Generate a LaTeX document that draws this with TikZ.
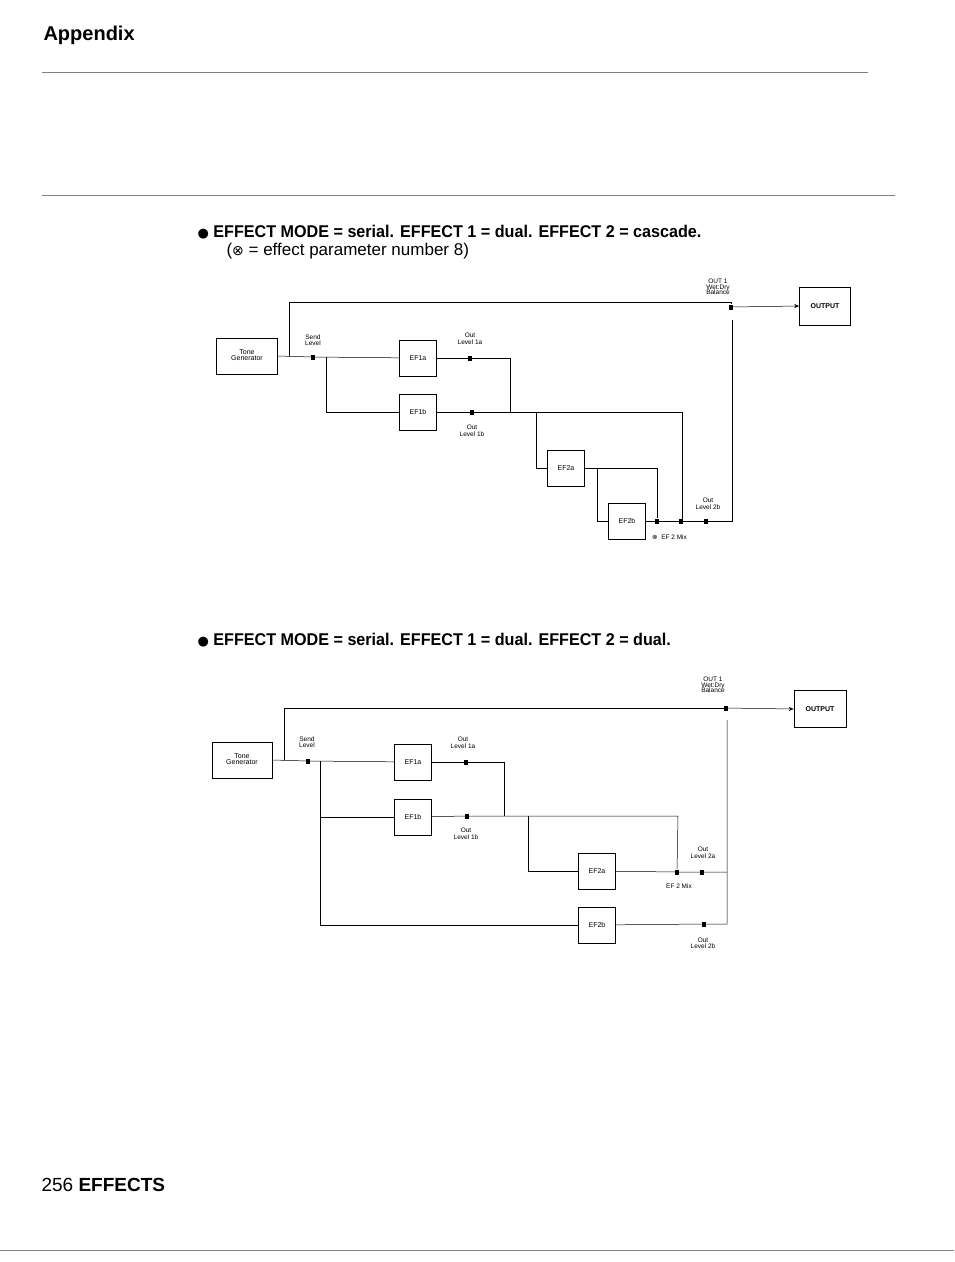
\documentclass[tikz,border=0pt]{standalone}
\usepackage{fontspec}
\setmainfont{Liberation Sans}
\newfontfamily\headf[FakeStretch=0.95]{Liberation Sans}
\newfontfamily\headg[FakeStretch=1.0]{Liberation Sans}
\newfontfamily\symf{DejaVu Sans}
\usetikzlibrary{arrows.meta}
\begin{document}
\begin{tikzpicture}[x=1pt,y=-1pt,
  blk/.style={draw,line width=0.6pt,minimum width=37pt,minimum height=36pt,inner sep=0pt,font=\fontsize{7}{7.5}\selectfont},
  sq/.style={fill=black,minimum width=4pt,minimum height=5pt,inner sep=0pt},
  lbl/.style={font=\fontsize{6.5}{6.5}\selectfont,align=center,inner sep=0pt},
  ln/.style={line width=0.5pt}]
\useasboundingbox (0,0) rectangle (954,1262);
\node[anchor=west,font=\bfseries\fontsize{20}{21}\selectfont] (app) at (40,35) {Appendix};
\draw[ln,gray] (42,72) coordinate(r1a) -- (868,72) coordinate(r1b);
\draw[ln,gray] (42,195) coordinate(r2a) -- (895,195) coordinate(r2b);
\draw[ln,gray] (0,1250) coordinate(r3a) -- (954,1250) coordinate(r3b);
\node[anchor=west,font=\fontsize{19}{20}\selectfont] (pg) at (38,1185) {256 \textbf{EFFECTS}};

% ---------- top ----------
\node[anchor=west,font=\headf\bfseries\fontsize{17}{18}\selectfont] (h1) at (194,232) {\symf\fontsize{13}{14}\selectfont ●\headf\fontsize{17}{18}\selectfont\ EFFECT MODE = serial. EFFECT 1 = dual. EFFECT 2 = cascade.};
\node[anchor=west,font=\headg\fontsize{17}{18}\selectfont] (h1b) at (223,251) {(\symf\fontsize{14}{15}\selectfont ⊗\headg\fontsize{17}{18}\selectfont\ = effect parameter number 8)};

\node[blk,minimum width=61pt] (tg) at (247,356) {\begin{tabular}{@{}c@{}}Tone\\[-2pt]Generator\end{tabular}};
\node[blk,minimum width=51pt,minimum height=38pt,font=\fontsize{7}{7}\selectfont\bfseries] (out) at (825,306) {OUTPUT};
\node[sq] (sl) at (313,357) {};
\node[lbl] at (313,340) {Send\\Level};
\node[blk] (e1a) at (418,358) {EF1a};
\node[blk] (e1b) at (418,412) {EF1b};
\node[sq] (o1a) at (470,358) {};
\node[lbl] at (470,339) {Out\\Level 1a};
\node[sq] (o1b) at (472,412) {};
\node[lbl] at (472,431) {Out\\Level 1b};
\node[blk] (e2a) at (566,468) {EF2a};
\node[blk] (e2b) at (627,521) {EF2b};
\node[sq] (m1) at (657,521) {};
\node[sq] (m2) at (681,521) {};
\node[sq] (m3) at (706,521) {};
\node[lbl,anchor=west] at (652,537) {\symf\fontsize{6.5}{6.5}\selectfont ⊗\rmfamily\fontsize{6.5}{6.5}\selectfont\ \ EF 2 Mix};
\node[lbl] at (708,504) {Out\\Level 2b};
\node[sq] (ob) at (731,307) {};
\node[lbl] at (718,287) {OUT 1\\[-1pt]Wet:Dry\\[-1pt]Balance};

\draw[ln] (tg.east) -- (sl) -- (e1a);
\draw[ln] (289,356) -- (289,302) -- (731,302) -- (ob);
\draw[ln,-{Stealth[length=5pt,width=4pt]}] (ob) -- (out.west);
\draw[ln] (326,357) |- (e1b.west);
\draw[ln] (e1a) -- (o1a) -| (510,412);
\draw[ln] (e1b) -- (o1b) -- (682,412) -- (682,521);
\draw[ln] (536,412) |- (e2a.west);
\draw[ln] (e2a.east) -- (657,468) -- (m1);
\draw[ln] (597,468) |- (e2b.west);
\draw[ln] (e2b) -- (m1) -- (m2) -- (m3) -- (732,521) -- (732,320);

% ---------- bottom ----------
\node[anchor=west,font=\headf\bfseries\fontsize{17}{18}\selectfont] (h2) at (194,640) {\symf\fontsize{13}{14}\selectfont ●\headf\fontsize{17}{18}\selectfont\ EFFECT MODE = serial. EFFECT 1 = dual. EFFECT 2 = dual.};

\node[blk,minimum width=60pt] (tg2) at (242,760) {\begin{tabular}{@{}c@{}}Tone\\[-2pt]Generator\end{tabular}};
\node[blk,minimum width=52pt,minimum height=37pt,font=\fontsize{7}{7}\selectfont\bfseries] (out2) at (820,709) {OUTPUT};
\node[sq] (sl2) at (308,761) {};
\node[lbl] at (307,742) {Send\\Level};
\node[blk] (f1a) at (413,762) {EF1a};
\node[blk] (f1b) at (413,817) {EF1b};
\node[sq] (p1a) at (466,762) {};
\node[lbl] at (463,743) {Out\\Level 1a};
\node[sq] (p1b) at (467,816) {};
\node[lbl] at (466,834) {Out\\Level 1b};
\node[blk] (f2a) at (597,871) {EF2a};
\node[blk] (f2b) at (597,925) {EF2b};
\node[sq] (n1) at (677,872) {};
\node[sq] (n2) at (702,872) {};
\node[lbl] at (679,886) {EF 2 Mix};
\node[lbl] at (703,853) {Out\\Level 2a};
\node[sq] (p2b) at (704,924) {};
\node[lbl] at (703,943) {Out\\Level 2b};
\node[sq] (ob2) at (726,708) {};
\node[lbl] at (713,685) {OUT 1\\[-1pt]Wet:Dry\\[-1pt]Balance};

\draw[ln] (tg2.east) -- (sl2) -- (f1a);
\draw[ln] (284,760) -- (284,708) -- (ob2);
\draw[ln,-{Stealth[length=5pt,width=4pt]}] (ob2) -- (out2.west);
\draw[ln] (320,761) |- (f1b.west);
\draw[ln] (320,800) |- (f2b.west);
\draw[ln] (f1a) -- (p1a) -| (504,816);
\draw[ln] (f1b) -- (p1b) -- (678,816) -- (n1);
\draw[ln] (528,816) |- (f2a.west);
\draw[ln] (f2a) -- (n1) -- (n2) -- (727,872);
\draw[ln] (f2b) -- (p2b) -- (727,924) -- (727,720);
\end{tikzpicture}
\end{document}
